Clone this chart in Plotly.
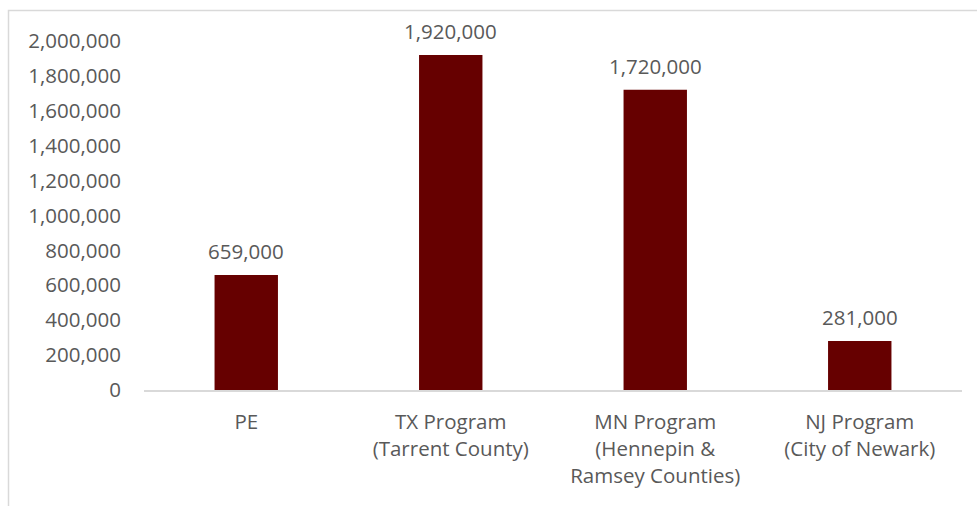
import plotly.graph_objects as go

categories = [
    "PE",
    "TX Program<br>(Tarrent County)",
    "MN Program<br>(Hennepin &<br>Ramsey Counties)",
    "NJ Program<br>(City of Newark)",
]
values = [659000, 1920000, 1720000, 281000]
y_ticks = list(range(0, 2000001, 200000))
y_tick_text = [f"{v:,}" for v in y_ticks]

bar_color = "#660000"
text_color = "#595959"
line_color = "#d9d9d9"
font_family = "Open Sans"
font_size = 20.5

fig = go.Figure(
    go.Bar(
        x=categories,
        y=values,
        marker=dict(color=bar_color, line=dict(width=0)),
        width=0.31,
        hoverinfo="skip",
    )
)

# value labels above each bar
for cat, val in zip(categories, values):
    fig.add_annotation(
        x=cat, y=val, text=f"{val:,}", showarrow=False,
        yanchor="bottom", yshift=8,
        font=dict(family=font_family, size=font_size, color=text_color),
    )

# chart-area border (extends beyond the visible page)
fig.add_shape(
    type="rect", xref="paper", yref="paper",
    x0=(8.5 - 144) / 818, x1=1.2, y0=-0.6, y1=(390 - 10.5) / 349,
    line=dict(color=line_color, width=1.5), fillcolor="rgba(0,0,0,0)",
    layer="below",
)

fig.update_layout(
    width=977, height=506,
    margin=dict(l=144, r=15, t=41, b=116),
    paper_bgcolor="white", plot_bgcolor="white",
    showlegend=False,
    font=dict(family=font_family, size=font_size, color=text_color),
    xaxis=dict(
        showline=True, linecolor=line_color, linewidth=1.5,
        showgrid=False, ticks="", ticklabelstandoff=13,
        tickfont=dict(family=font_family, size=font_size, color=text_color),
        fixedrange=True,
    ),
    yaxis=dict(
        range=[0, 2000000], tickvals=y_ticks, ticktext=y_tick_text,
        showgrid=False, zeroline=False, showline=False, ticks="",
        ticklabelstandoff=22,
        tickfont=dict(family=font_family, size=font_size, color=text_color),
        fixedrange=True,
    ),
)

fig.write_html("out.html")
